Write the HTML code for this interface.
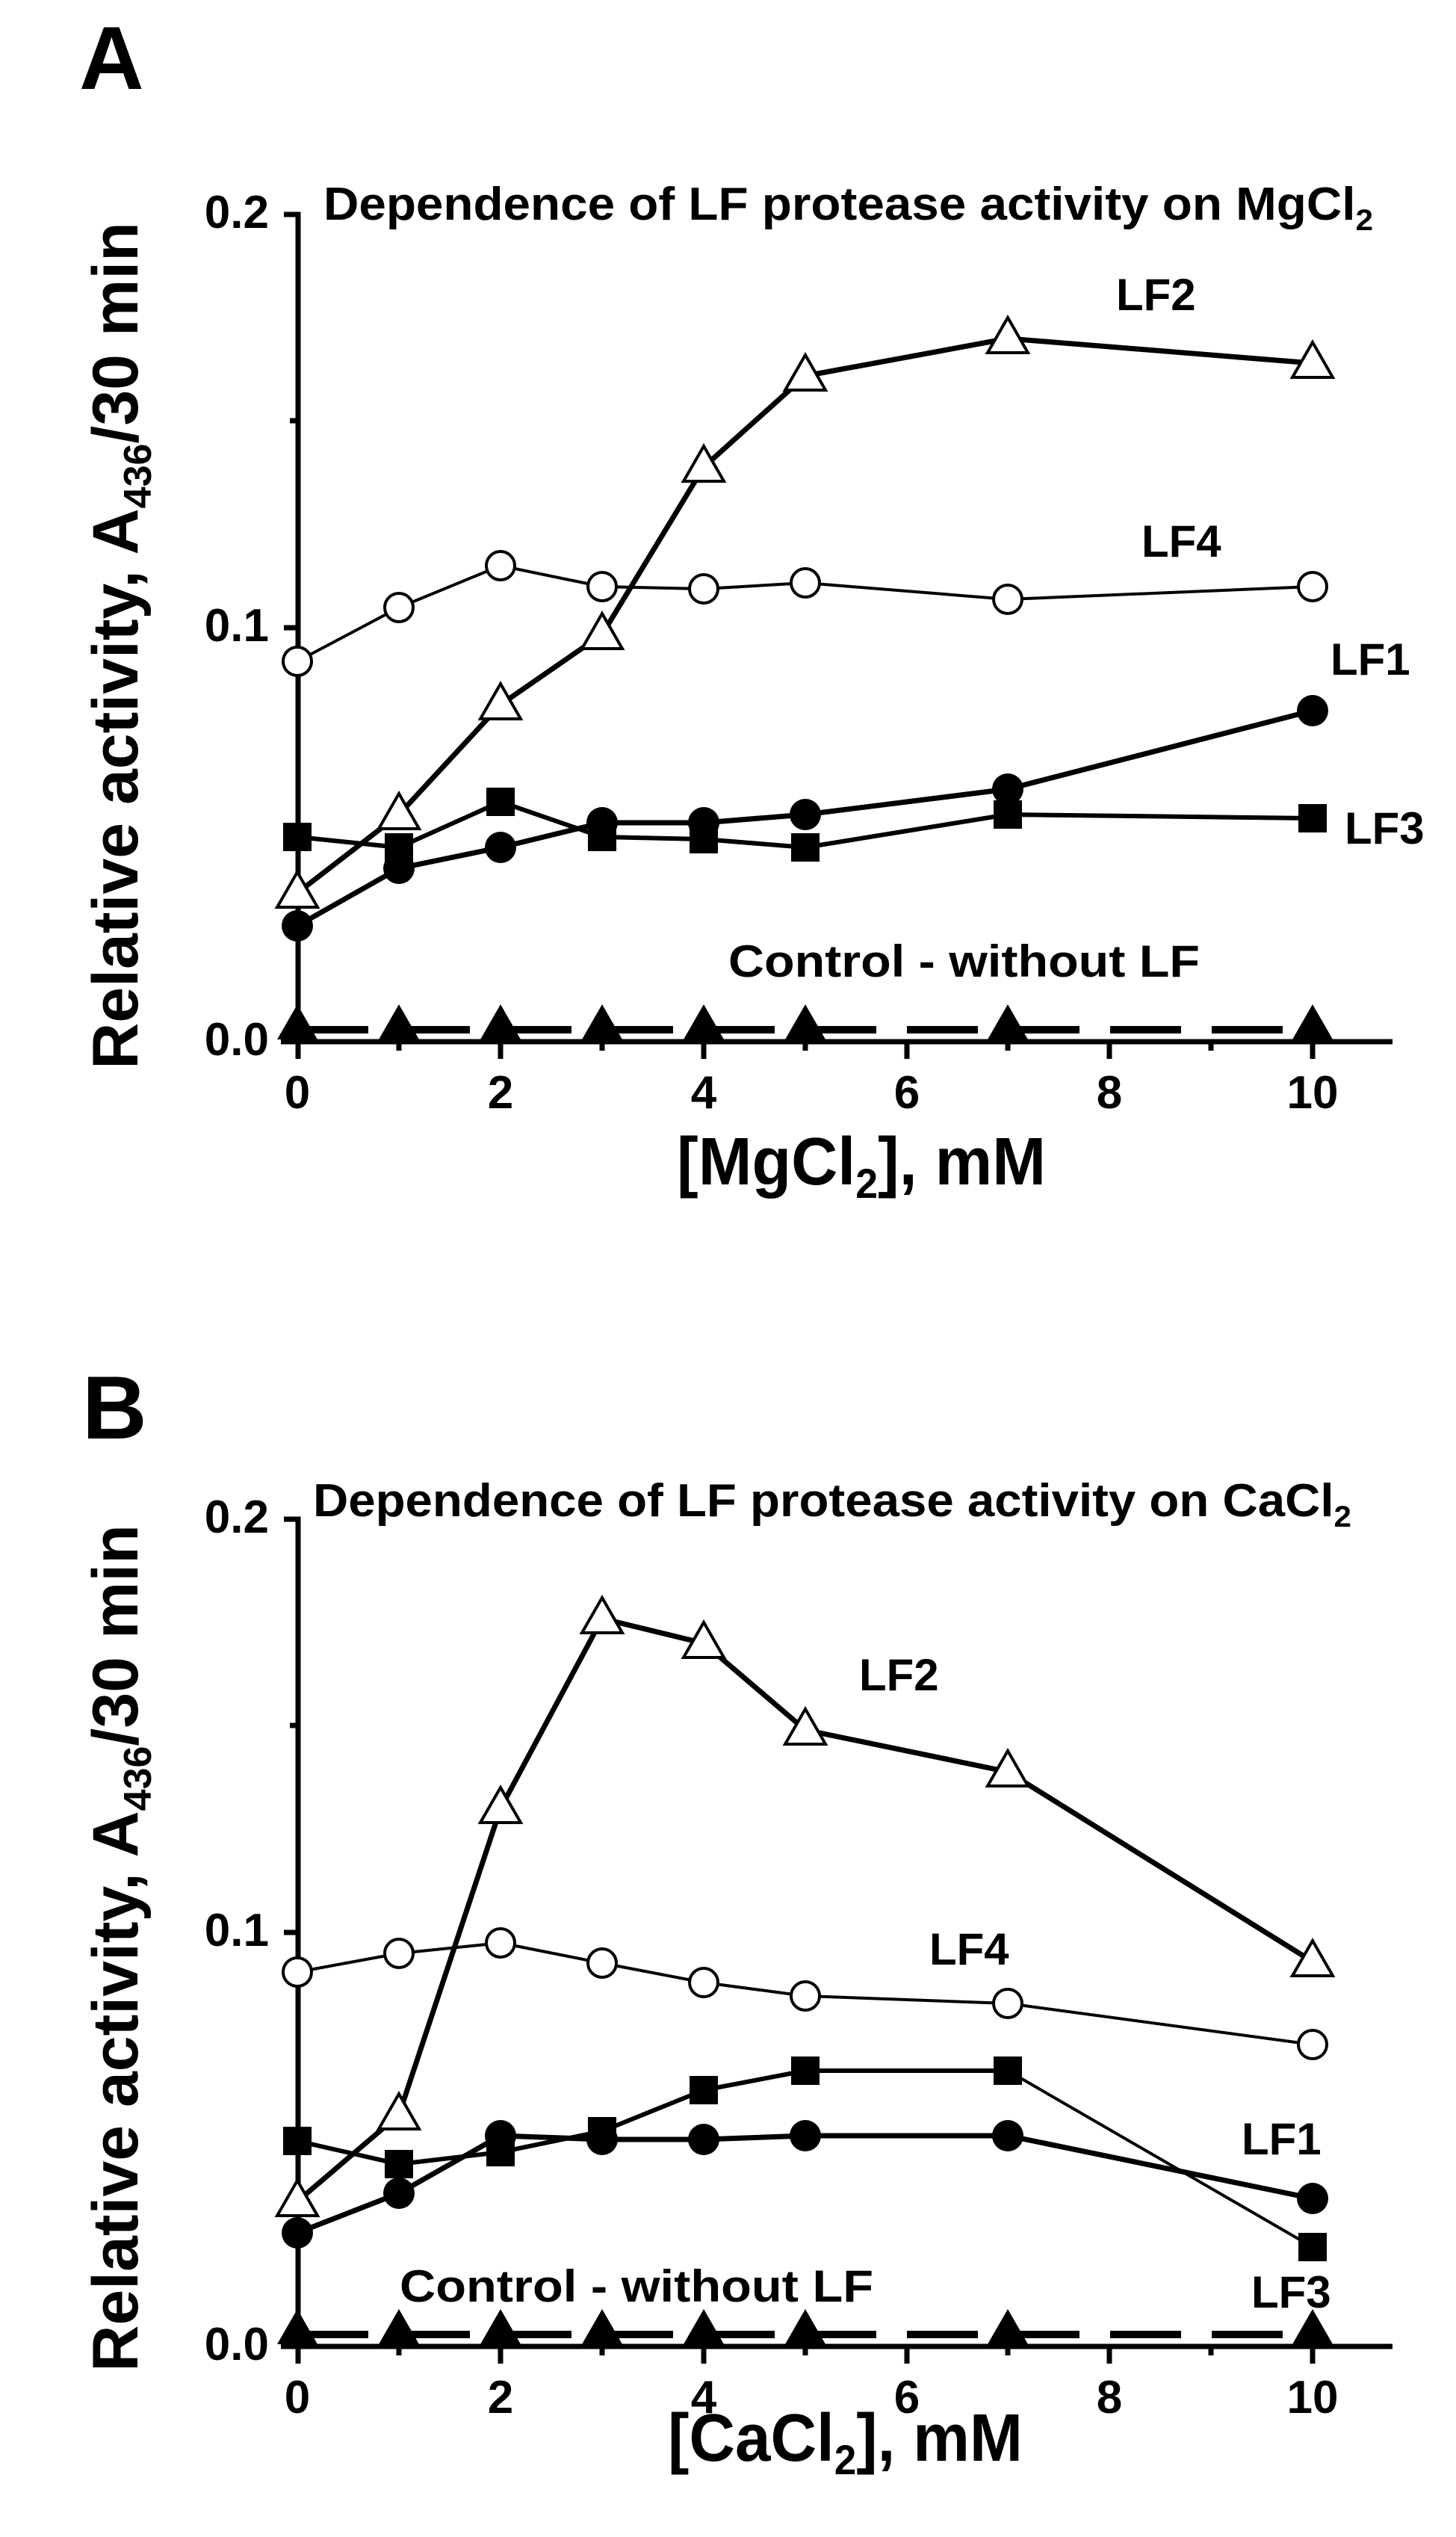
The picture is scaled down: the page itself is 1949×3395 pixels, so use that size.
<!DOCTYPE html>
<html><head><meta charset="utf-8"><style>
html,body{margin:0;padding:0;background:#fff}
svg{display:block}
text{font-family:"Liberation Sans",Arial,sans-serif;font-weight:bold;fill:#000}
</style></head><body>
<svg width="1949" height="3395" viewBox="0 0 1949 3395" xmlns="http://www.w3.org/2000/svg">
<defs>
<path id="tri" d="M0,-28 L-27,19 L27,19 Z"/>
</defs>

<!-- ================= PANEL A ================= -->
<text x="106" y="119" font-size="120">A</text>
<g stroke="#000" stroke-width="7" fill="none">
<polyline points="380,287 399,287 399,1417"/>
<line x1="376" y1="1394" x2="1864" y2="1394"/>
<line x1="380" y1="840" x2="399" y2="840"/>
<line x1="388" y1="1117" x2="399" y2="1117"/>
<line x1="388" y1="563" x2="399" y2="563"/>
<line x1="670" y1="1394" x2="670" y2="1417"/>
<line x1="942" y1="1394" x2="942" y2="1417"/>
<line x1="1214" y1="1394" x2="1214" y2="1417"/>
<line x1="1485" y1="1394" x2="1485" y2="1417"/>
<line x1="1757" y1="1394" x2="1757" y2="1417"/>
<line x1="534" y1="1394" x2="534" y2="1406"/>
<line x1="806" y1="1394" x2="806" y2="1406"/>
<line x1="1078" y1="1394" x2="1078" y2="1406"/>
<line x1="1349" y1="1394" x2="1349" y2="1406"/>
<line x1="1621" y1="1394" x2="1621" y2="1406"/>
</g>
<g font-size="62" text-anchor="end">
<text x="360" y="1412">0.0</text>
<text x="360" y="858">0.1</text>
<text x="360" y="305">0.2</text>
</g>
<g font-size="62" text-anchor="middle">
<text x="398" y="1483">0</text><text x="670" y="1483">2</text><text x="942" y="1483">4</text>
<text x="1214" y="1483">6</text><text x="1485" y="1483">8</text><text x="1757" y="1483">10</text>
</g>
<text transform="translate(184,864) rotate(-90)" font-size="86" text-anchor="middle">Relative activity, A<tspan font-size="52" dy="18">436</tspan><tspan dy="-18">/30 min</tspan></text>
<text x="906" y="1585" font-size="90" textLength="494" lengthAdjust="spacingAndGlyphs">[MgCl<tspan font-size="56" dy="18">2</tspan><tspan dy="-18">], mM</tspan></text>
<text x="433" y="294" font-size="62" textLength="1405" lengthAdjust="spacingAndGlyphs">Dependence of LF protease activity on MgCl<tspan font-size="40" dy="14">2</tspan></text>
<g font-size="60">
<text x="1494" y="415">LF2</text>
<text x="1528" y="745">LF4</text>
<text x="1781" y="903">LF1</text>
<text x="1800" y="1129">LF3</text>
<text x="975" y="1307" textLength="631" lengthAdjust="spacingAndGlyphs">Control - without LF</text>
</g>
<!-- control -->
<line x1="398" y1="1378" x2="1757" y2="1378" stroke="#000" stroke-width="10" stroke-dasharray="95,41"/>
<!-- series lines -->
<g fill="none" stroke="#000" stroke-linejoin="round">
<polyline stroke-width="4" points="398,885 534,813 670,757 806,785 942,788 1078,780 1349,802 1757,785"/>
<polyline stroke-width="6" points="398,1120 534,1134 670,1073 806,1120 942,1123 1078,1134 1349,1090 1757,1095"/>
<polyline stroke-width="7" points="398,1239 534,1162 670,1134 806,1101 942,1101 1078,1090 1349,1056 1757,951"/>
<polyline stroke-width="7" points="398,1195 534,1090 670,943 806,849 942,625 1078,503 1349,453 1757,486"/>
</g>
<!-- markers -->
<g fill="#000">
<use href="#tri" x="398" y="1372"/><use href="#tri" x="534" y="1372"/><use href="#tri" x="670" y="1372"/><use href="#tri" x="806" y="1372"/><use href="#tri" x="942" y="1372"/><use href="#tri" x="1078" y="1372"/><use href="#tri" x="1349" y="1372"/><use href="#tri" x="1757" y="1372"/>
</g>
<g fill="#000">
<rect x="379" y="1101" width="38" height="38"/><rect x="515" y="1115" width="38" height="38"/><rect x="651" y="1054" width="38" height="38"/><rect x="787" y="1101" width="38" height="38"/><rect x="923" y="1104" width="38" height="38"/><rect x="1059" y="1115" width="38" height="38"/><rect x="1330" y="1071" width="38" height="38"/><rect x="1738" y="1076" width="38" height="38"/>
<circle cx="398" cy="1239" r="21"/><circle cx="534" cy="1162" r="21"/><circle cx="670" cy="1134" r="21"/><circle cx="806" cy="1101" r="21"/><circle cx="942" cy="1101" r="21"/><circle cx="1078" cy="1090" r="21"/><circle cx="1349" cy="1056" r="21"/><circle cx="1757" cy="951" r="21"/>
</g>
<g fill="#fff" stroke="#000" stroke-width="4">
<circle cx="398" cy="885" r="19"/><circle cx="534" cy="813" r="19"/><circle cx="670" cy="757" r="19"/><circle cx="806" cy="785" r="19"/><circle cx="942" cy="788" r="19"/><circle cx="1078" cy="780" r="19"/><circle cx="1349" cy="802" r="19"/><circle cx="1757" cy="785" r="19"/>
<use href="#tri" x="398" y="1195"/><use href="#tri" x="534" y="1090"/><use href="#tri" x="670" y="943"/><use href="#tri" x="806" y="849"/><use href="#tri" x="942" y="625"/><use href="#tri" x="1078" y="503"/><use href="#tri" x="1349" y="453"/><use href="#tri" x="1757" y="486"/>
</g>

<!-- ================= PANEL B ================= -->
<text x="110" y="1925" font-size="120">B</text>
<g stroke="#000" stroke-width="7" fill="none">
<polyline points="380,2033 399,2033 399,3163"/>
<line x1="376" y1="3140" x2="1864" y2="3140"/>
<line x1="380" y1="2586" x2="399" y2="2586"/>
<line x1="388" y1="2863" x2="399" y2="2863"/>
<line x1="388" y1="2309" x2="399" y2="2309"/>
<line x1="670" y1="3140" x2="670" y2="3163"/>
<line x1="942" y1="3140" x2="942" y2="3163"/>
<line x1="1214" y1="3140" x2="1214" y2="3163"/>
<line x1="1485" y1="3140" x2="1485" y2="3163"/>
<line x1="1757" y1="3140" x2="1757" y2="3163"/>
<line x1="534" y1="3140" x2="534" y2="3152"/>
<line x1="806" y1="3140" x2="806" y2="3152"/>
<line x1="1078" y1="3140" x2="1078" y2="3152"/>
<line x1="1349" y1="3140" x2="1349" y2="3152"/>
<line x1="1621" y1="3140" x2="1621" y2="3152"/>
</g>
<g font-size="62" text-anchor="end">
<text x="360" y="3158">0.0</text>
<text x="360" y="2604">0.1</text>
<text x="360" y="2051">0.2</text>
</g>
<g font-size="62" text-anchor="middle">
<text x="398" y="3229">0</text><text x="670" y="3229">2</text><text x="942" y="3229">4</text>
<text x="1214" y="3229">6</text><text x="1485" y="3229">8</text><text x="1757" y="3229">10</text>
</g>
<text transform="translate(184,2607) rotate(-90)" font-size="86" text-anchor="middle">Relative activity, A<tspan font-size="52" dy="18">436</tspan><tspan dy="-18">/30 min</tspan></text>
<text x="894" y="3293" font-size="90" textLength="475" lengthAdjust="spacingAndGlyphs">[CaCl<tspan font-size="56" dy="18">2</tspan><tspan dy="-18">], mM</tspan></text>
<text x="419" y="2029" font-size="62" textLength="1390" lengthAdjust="spacingAndGlyphs">Dependence of LF protease activity on CaCl<tspan font-size="40" dy="14">2</tspan></text>
<g font-size="60">
<text x="1150" y="2262">LF2</text>
<text x="1244" y="2629">LF4</text>
<text x="1662" y="2883">LF1</text>
<text x="1675" y="3088">LF3</text>
<text x="535" y="3080" textLength="634" lengthAdjust="spacingAndGlyphs">Control - without LF</text>
</g>
<line x1="398" y1="3124" x2="1757" y2="3124" stroke="#000" stroke-width="10" stroke-dasharray="95,41"/>
<g fill="none" stroke="#000" stroke-linejoin="round">
<polyline stroke-width="4" points="398,2639 534,2614 670,2600 806,2627 942,2653 1078,2671 1349,2681 1757,2736"/>
<polyline stroke-width="6" points="398,2865 534,2896 670,2880 806,2852 942,2797 1078,2771 1349,2771"/>
<polyline stroke-width="4" points="1349,2771 1757,3007"/>
<polyline stroke-width="7" points="398,2988 534,2935 670,2858 806,2863 942,2863 1078,2858 1349,2858 1757,2942"/>
<polyline stroke-width="7" points="398,2946 534,2830 670,2420 806,2166 942,2199 1078,2315 1349,2371 1757,2625"/>
</g>
<g fill="#000">
<use href="#tri" x="398" y="3118"/><use href="#tri" x="534" y="3118"/><use href="#tri" x="670" y="3118"/><use href="#tri" x="806" y="3118"/><use href="#tri" x="942" y="3118"/><use href="#tri" x="1078" y="3118"/><use href="#tri" x="1349" y="3118"/><use href="#tri" x="1757" y="3118"/>
<rect x="379" y="2846" width="38" height="38"/><rect x="515" y="2877" width="38" height="38"/><rect x="651" y="2861" width="38" height="38"/><rect x="787" y="2833" width="38" height="38"/><rect x="923" y="2778" width="38" height="38"/><rect x="1059" y="2752" width="38" height="38"/><rect x="1330" y="2752" width="38" height="38"/><rect x="1738" y="2988" width="38" height="38"/>
<circle cx="398" cy="2988" r="21"/><circle cx="534" cy="2935" r="21"/><circle cx="670" cy="2858" r="21"/><circle cx="806" cy="2863" r="21"/><circle cx="942" cy="2863" r="21"/><circle cx="1078" cy="2858" r="21"/><circle cx="1349" cy="2858" r="21"/><circle cx="1757" cy="2942" r="21"/>
</g>
<g fill="#fff" stroke="#000" stroke-width="4">
<circle cx="398" cy="2639" r="19"/><circle cx="534" cy="2614" r="19"/><circle cx="670" cy="2600" r="19"/><circle cx="806" cy="2627" r="19"/><circle cx="942" cy="2653" r="19"/><circle cx="1078" cy="2671" r="19"/><circle cx="1349" cy="2681" r="19"/><circle cx="1757" cy="2736" r="19"/>
<use href="#tri" x="398" y="2946"/><use href="#tri" x="534" y="2830"/><use href="#tri" x="670" y="2420"/><use href="#tri" x="806" y="2166"/><use href="#tri" x="942" y="2199"/><use href="#tri" x="1078" y="2315"/><use href="#tri" x="1349" y="2371"/><use href="#tri" x="1757" y="2625"/>
</g>
</svg>
</body></html>
